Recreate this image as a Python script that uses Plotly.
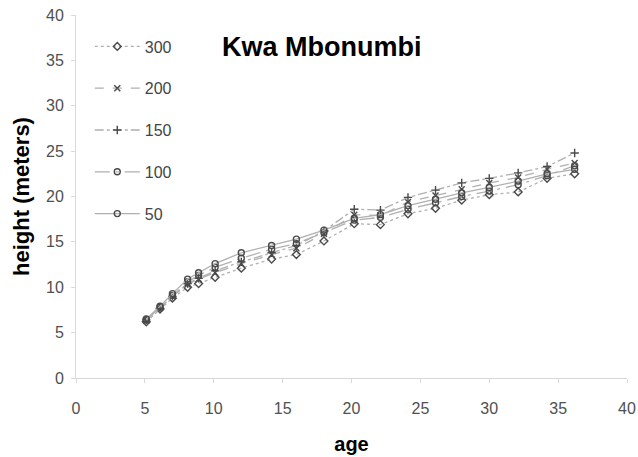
import plotly.graph_objects as go

# stand age (years) and height (m) per planting density
ages = [5.1, 6.1, 7.0, 8.1, 8.9, 10.1, 12.0, 14.2, 16.0, 18.0, 20.2, 22.1, 24.1, 26.1, 28.0, 30.0, 32.1, 34.2, 36.2]

h_300 = [6.2, 7.6, 8.8, 10.0, 10.4, 11.1, 12.1, 13.1, 13.6, 15.1, 17.0, 16.9, 18.1, 18.7, 19.6, 20.2, 20.5, 22.0, 22.5]
h_200 = [6.3, 7.7, 9.0, 10.3, 10.9, 11.6, 12.6, 13.6, 14.3, 15.9, 18.0, 17.9, 19.4, 20.1, 20.8, 21.5, 22.1, 23.0, 23.7]
h_150 = [6.4, 7.7, 9.0, 10.4, 11.0, 11.8, 12.8, 13.8, 14.6, 16.2, 18.6, 18.5, 19.9, 20.7, 21.5, 22.0, 22.6, 23.3, 24.8]
h_100 = [6.4, 7.8, 9.1, 10.6, 11.3, 12.2, 13.2, 14.2, 14.8, 16.0, 17.4, 17.7, 18.6, 19.3, 20.0, 20.6, 21.3, 22.3, 23.4]
h_50 = [6.5, 7.9, 9.3, 10.9, 11.6, 12.6, 13.8, 14.6, 15.3, 16.3, 17.6, 18.0, 19.0, 19.7, 20.4, 21.0, 21.7, 22.5, 23.0]

series = [
    ("300", h_300, "dot", "diamond-open"),
    ("200", h_200, "dash", "x-thin-open"),
    ("150", h_150, "dashdot", "cross-thin-open"),
    ("100", h_100, "longdashdot", "circle-open"),
    ("50", h_50, "solid", "circle-open"),
]

fig = go.Figure()
for name, vals, dash, sym in series:
    fig.add_trace(go.Scatter(
        x=ages, y=vals, name=name, mode="lines+markers",
        legendgroup=name,
        line=dict(color="#b0b0b0", width=1.3, dash=dash),
        marker=dict(symbol=sym, size=6, color="#4a4a4a",
                    line=dict(color="#4a4a4a", width=1.4)),
    ))

axis_font = dict(family="Liberation Sans", size=16, color="#505050")

fig.update_layout(
    width=638, height=457,
    margin=dict(l=76, r=11, t=15, b=79),
    paper_bgcolor="white", plot_bgcolor="white",
    showlegend=True,
    legend=dict(x=0.025, y=0.96, xanchor="left", yanchor="top",
                bgcolor="rgba(0,0,0,0)", tracegroupgap=18, itemwidth=45,
                font=dict(family="Liberation Sans", size=16, color="#444444")),
    annotations=[dict(text="<b>Kwa Mbonumbi</b>", xref="paper", yref="paper",
                      x=0.445, y=0.912, xanchor="center", yanchor="middle",
                      showarrow=False,
                      font=dict(family="Liberation Sans", size=27, color="black"))],
)

fig.update_xaxes(
    range=[0, 40], dtick=5, showgrid=False, zeroline=False, automargin=False,
    showline=True, linecolor="#d9d9d9", linewidth=1,
    ticks="outside", ticklen=4, tickcolor="#d9d9d9",
    ticklabelstandoff=12, tickfont=axis_font,
    title=dict(text="<b>age</b>", standoff=20,
               font=dict(family="Liberation Sans", size=20, color="black")),
)
fig.update_yaxes(
    range=[0, 40], dtick=5, showgrid=False, zeroline=False, automargin=False,
    showline=True, linecolor="#d9d9d9", linewidth=1,
    ticks="outside", ticklen=4, tickcolor="#d9d9d9",
    ticklabelstandoff=4, tickfont=axis_font,
    title=dict(text="<b>height (meters)</b>", standoff=10,
               font=dict(family="Liberation Sans", size=22, color="black")),
)

# drop the browser's default 8px body margin so the figure fills the window
fig.write_html("out.html", config={"displayModeBar": False},
               post_script="document.body.style.margin='0';")
